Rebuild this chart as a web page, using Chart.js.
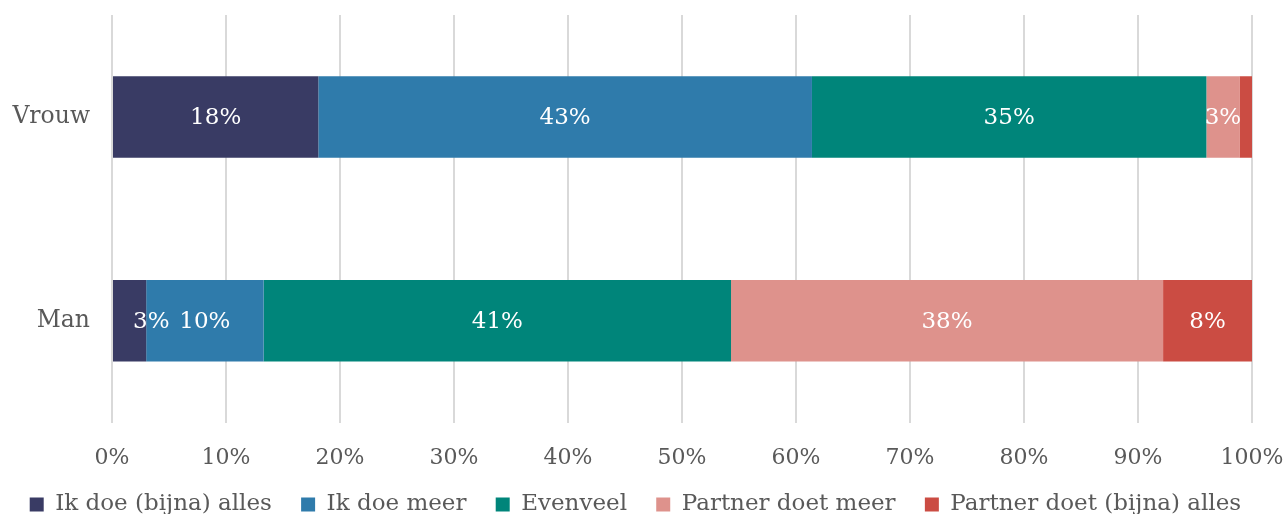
<!DOCTYPE html>
<html>
<head>
<meta charset="utf-8">
<script src="https://cdn.jsdelivr.net/npm/chart.js@4/dist/chart.umd.min.js"></script>
<style>
  html, body { margin: 0; padding: 0; background: #fff; overflow: hidden; }
  #wrap { width: 1288px; height: 526px; position: relative; }
</style>
</head>
<body>
<div id="wrap"><canvas id="board"></canvas></div>
<script>
let categories = ["Vrouw", "Man"];
let seriesNames = ["Ik doe (bijna) alles", "Ik doe meer", "Evenveel", "Partner doet meer", "Partner doet (bijna) alles"];
let ikAlles = [18.1, 3.0];
let ikMeer = [43.3, 10.3];
let evenveel = [34.6, 41.0];
let partnerMeer = [2.9, 37.9];
let partnerAlles = [1.1, 7.8];
let colors = ["#393b64", "#2f7bab", "#00857a", "#de928c", "#cb4c43"];

let font = "'DejaVu Serif', 'Liberation Serif', serif";
let grey = "#595959";

// labels in the middle of each bar piece
let barLabels = {
  id: "barLabels",
  afterDatasetsDraw(chart) {
    let ctx = chart.ctx;
    ctx.save();
    ctx.font = "23px " + font;
    ctx.fillStyle = "#ffffff";
    ctx.textAlign = "center";
    ctx.textBaseline = "middle";
    chart.data.datasets.forEach((ds, i) => {
      chart.getDatasetMeta(i).data.forEach((bar, j) => {
        let v = ds.data[j];
        if (v < 2) return;
        let txt = Math.round(v) + "%";
        let x = (bar.x + bar.base) / 2;
        let w = ctx.measureText(txt).width;
        // piece too narrow: label pushed to the right like the original
        if (i === 0 && w + 6 > Math.abs(bar.x - bar.base)) x = bar.base + 20 + w / 2;
        ctx.fillText(txt, x, bar.y + 1);
      });
    });
    ctx.restore();
  }
};

let data = [ikAlles, ikMeer, evenveel, partnerMeer, partnerAlles];

let chart = new Chart(document.getElementById("board"), {
  type: "bar",
  data: {
    labels: categories,
    datasets: seriesNames.map((name, i) => ({
      label: name,
      data: data[i],
      backgroundColor: colors[i],
      borderWidth: 0,
      barPercentage: 0.4,
      categoryPercentage: 1
    }))
  },
  options: {
    indexAxis: "y",
    responsive: true,
    maintainAspectRatio: false,
    animation: false,
    layout: { padding: { top: 15, right: 0, left: 12, bottom: 0 } },
    scales: {
      x: {
        stacked: true,
        min: 0,
        max: 100,
        border: { display: false },
        grid: { color: "#d9d9d9", lineWidth: 2, drawTicks: false },
        afterFit: s => { s.paddingLeft = 0; s.paddingRight = 36; },
        ticks: {
          stepSize: 10,
          padding: 22,
          color: grey,
          font: { family: font, size: 22 },
          callback: v => v + "%"
        }
      },
      y: {
        stacked: true,
        border: { display: false },
        grid: { display: false, drawTicks: false },
        afterFit: s => { s.width = 100; s.paddingTop = 0; s.paddingBottom = 0; },
        ticks: {
          padding: 22,
          color: grey,
          font: { family: font, size: 23.5 }
        }
      }
    },
    plugins: {
      legend: {
        position: "bottom",
        labels: {
          color: grey,
          font: { family: font, size: 23 },
          boxWidth: 14,
          boxHeight: 14,
          padding: 0,
          generateLabels: c => {
            let items = Chart.defaults.plugins.legend.labels.generateLabels(c);
            items.forEach(it => { it.text += "    "; });
            return items;
          }
        }
      },
      tooltip: { enabled: false }
    }
  },
  plugins: [barLabels]
});
</script>
</body>
</html>
